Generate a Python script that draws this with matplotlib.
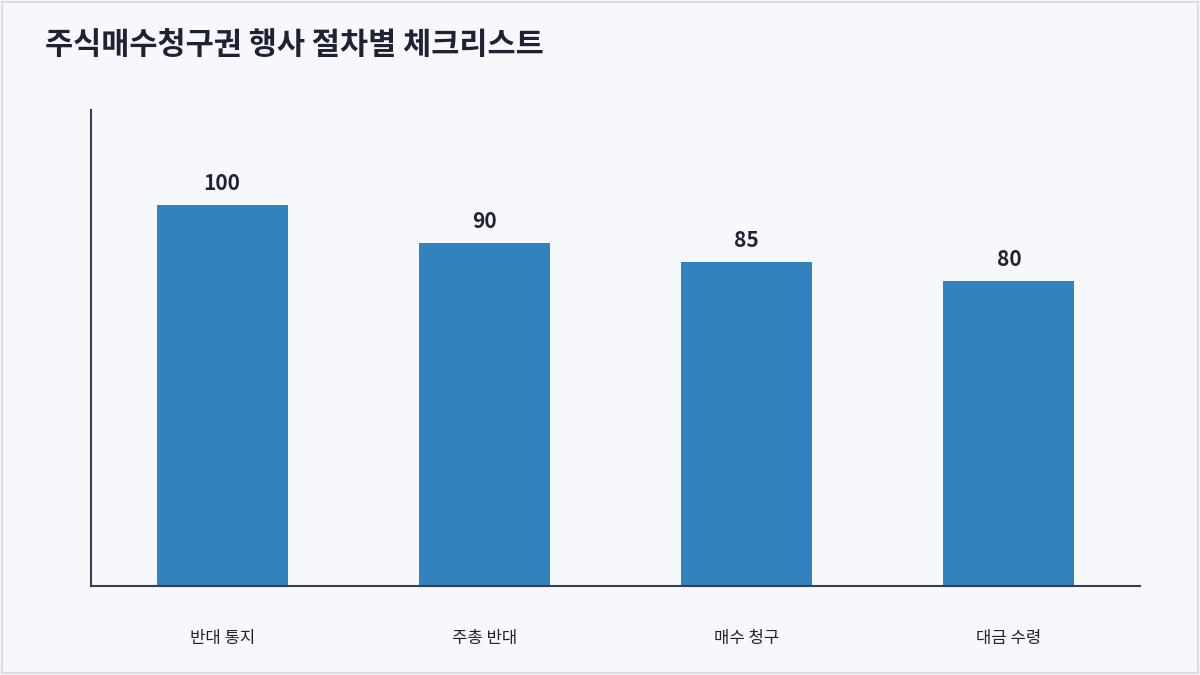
import matplotlib
matplotlib.use("Agg")
import matplotlib.pyplot as plt
from matplotlib.patches import Rectangle

plt.rcParams['font.family'] = ['Noto Sans CJK KR', 'DejaVu Sans']

categories = ["반대 통지", "주총 반대", "매수 청구", "대금 수령"]
values = [100, 90, 85, 80]
title = "주식매수청구권 행사 절차별 체크리스트"

bg = "#F7F8FC"
fig = plt.figure(figsize=(12, 6.75), dpi=100, facecolor=bg)
fig.patches.append(Rectangle((0.002, 0.003), 0.996, 0.994, transform=fig.transFigure,
                             fill=False, edgecolor="#DADDE6", linewidth=1.5))
ax = fig.add_axes([91/1200, 1-586/675, 1049/1200, 476/675], facecolor=bg)
x = range(len(categories))
ax.bar(x, values, width=0.5, color="#3182BD")
for i, v in zip(x, values):
    ax.text(i, v + 3, str(v), ha="center", va="bottom", fontsize=15,
            fontweight="bold", color="#1F2233")
ax.set_xlim(-0.5, 3.5)
ax.set_ylim(0, 125)
ax.set_yticks([])
ax.set_xticks(list(x))
ax.set_xticklabels(categories, fontsize=12, color="#1F2233")
ax.tick_params(axis="x", length=0, pad=32)
for s in ["top", "right"]:
    ax.spines[s].set_visible(False)
for s in ["left", "bottom"]:
    ax.spines[s].set_color("#3A3D55")
    ax.spines[s].set_linewidth(1.5)
fig.text(45/1200, 1-45/675, title, fontsize=22, fontweight="bold",
         color="#1F2233", ha="left", va="center")
fig.savefig("out.png", dpi=100, facecolor=bg)
